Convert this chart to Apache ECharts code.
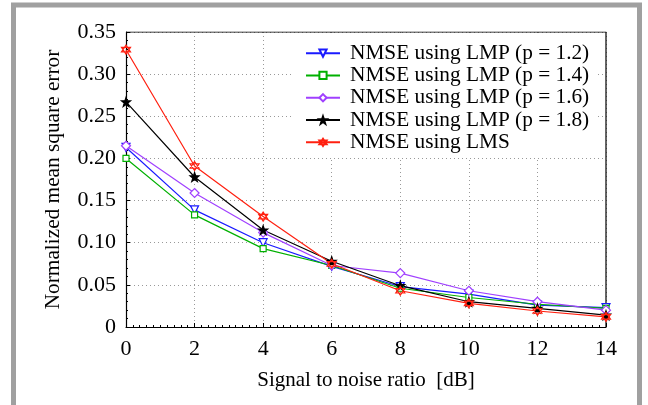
<!DOCTYPE html>
<html><head><meta charset="utf-8">
<script src="https://cdn.jsdelivr.net/npm/echarts@6/dist/echarts.min.js"></script>
<style>html,body{margin:0;padding:0;background:#fff}#c{width:648px;height:405px}</style>
</head><body><div id="c"></div>
<script>
const snr = [0, 2, 4, 6, 8, 10, 12, 14];
const lmp12 = [0.213, 0.139, 0.100, 0.072, 0.048, 0.039, 0.026, 0.023];
const lmp14 = [0.200, 0.133, 0.093, 0.073, 0.046, 0.035, 0.027, 0.022];
const lmp16 = [0.215, 0.159, 0.112, 0.073, 0.064, 0.043, 0.030, 0.020];
const lmp18 = [0.267, 0.178, 0.115, 0.078, 0.049, 0.030, 0.022, 0.014];
const lms   = [0.329, 0.191, 0.131, 0.075, 0.043, 0.028, 0.019, 0.012];
const names = ['NMSE using LMP (p = 1.2)','NMSE using LMP (p = 1.4)','NMSE using LMP (p = 1.6)','NMSE using LMP (p = 1.8)','NMSE using LMS'];
const yTicks = ['0','0.05','0.10','0.15','0.20','0.25','0.30','0.35'];

const F = 'Liberation Serif, Times New Roman, serif';
const starPath = 'path://M0,-10 L2.35,-3.24 L9.51,-3.09 L3.8,1.24 L5.88,8.09 L0,4 L-5.88,8.09 L-3.8,1.24 L-9.51,-3.09 L-2.35,-3.24Z';
const hexPath = 'path://M0,-10 L8.66,5 L-8.66,5Z M0,10 L8.66,-5 L-8.66,-5Z';

function pts(arr){ return snr.map((x,i)=>[x,arr[i]]); }
function mk(name, arr, color, symbol, size, filled, rotate){
  return {
    name, type:'line', data: pts(arr), symbol, symbolSize:size, symbolRotate: rotate||0,
    showAllSymbol:true,
    lineStyle:{color, width:1.2},
    itemStyle:{color: filled?color:'#fff', borderColor:color, borderWidth:1.2},
    emphasis:{disabled:true}, animation:false
  };
}
const chart = echarts.init(document.getElementById('c'));
chart.setOption({
  animation:false,
  backgroundColor:'#fff',
  graphic:[{type:'rect', shape:{x:13.5,y:5,width:626,height:430}, style:{fill:'none', stroke:'#a0a0a0', lineWidth:5}, silent:true, z:0}],
  grid:{left:126, top:32, right:42, bottom:78, show:false},
  legend:{
    left:293, top:33, orient:'vertical', align:'left',
    backgroundColor:'#fff', padding:[9,8,4,12],
    itemWidth:34, itemHeight:9, itemGap:0,
    textStyle:{fontFamily:F, fontSize:21.3, color:'#000', lineHeight:22.3, padding:[0,0,0,5]},
    data: names
  },
  xAxis:{
    type:'value', min:0, max:14, interval:2,
    name:'Signal to noise ratio  [dB]', nameLocation:'middle', nameGap:43,
    nameTextStyle:{fontFamily:F, fontSize:21, color:'#000'},
    axisLine:{show:true, lineStyle:{color:'#000', width:1.2}},
    axisTick:{show:true, inside:true, length:4, lineStyle:{color:'#000'}},
    minorTick:{show:true, splitNumber:10, length:2, lineStyle:{color:'#000'}},
    axisLabel:{fontFamily:F, fontSize:22, color:'#000', margin:11},
    splitLine:{show:true, lineStyle:{color:'#999', type:[1,3], width:1}}
  },
  yAxis:{
    type:'value', min:0, max:0.35, interval:0.05,
    name:'Normalized mean square error', nameLocation:'middle', nameGap:62,
    nameTextStyle:{fontFamily:F, fontSize:21.3, color:'#000'},
    axisLine:{show:true, lineStyle:{color:'#000', width:1.2}},
    axisTick:{show:true, inside:true, length:4, lineStyle:{color:'#000'}},
    minorTick:{show:true, splitNumber:5, length:2, lineStyle:{color:'#000'}},
    axisLabel:{fontFamily:F, fontSize:22, color:'#000', margin:10,
      formatter:(v)=>{ const i=Math.round(v/0.05); return yTicks[i]!==undefined?yTicks[i]:''; }},
    splitLine:{show:true, lineStyle:{color:'#999', type:[1,3], width:1}}
  },
  series:[
    mk(names[0], lmp12, '#1a1aff', 'triangle', 8, false, 180),
    mk(names[1], lmp14, '#00b000', 'rect', 6, false),
    mk(names[2], lmp16, '#a040ff', 'diamond', 9, false),
    mk(names[3], lmp18, '#000000', starPath, 9, true),
    mk(names[4], lms, '#ff2010', hexPath, 9, false),
    {type:'line', data:[[0,0.35],[14,0.35],[14,0]], symbol:'none', lineStyle:{color:'#000', width:1.2}, silent:true, animation:false, z:1}
  ]
});
</script></body></html>
